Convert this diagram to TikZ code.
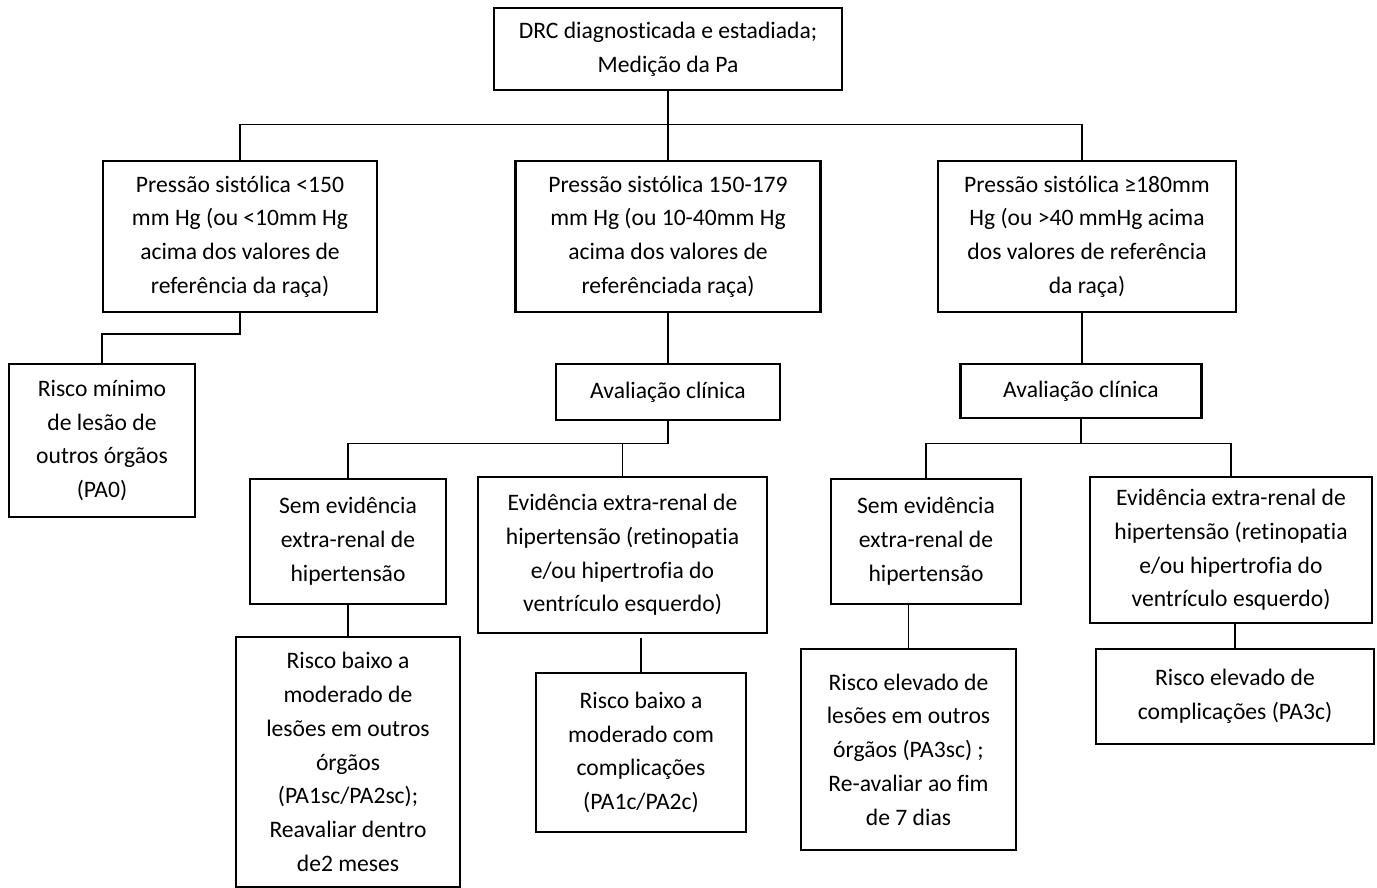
\documentclass[tikz,border=0pt]{standalone}
\usepackage{fontspec}
\setmainfont{Carlito}[Ligatures=NoCommon]
\begin{document}
\begin{tikzpicture}[x=1pt,y=1pt,
  box/.style={draw, line width=2.1pt, inner sep=0pt, align=center,
    font=\fontsize{23.6}{33.8}\selectfont},
  link/.style={draw, line width=1.6pt}]
\useasboundingbox[fill=white] (0,0) rectangle (1377,-888);

% level 0
\node[box, minimum width=348, minimum height=82] (top) at (668,-49)
  {DRC diagnosticada e estadiada;\\Medição da Pa};

% level 1: blood pressure ranges
\node[box, minimum width=274, minimum height=151] (p1) at (240,-236.5)
  {Pressão sistólica <150\\mm Hg (ou <10mm Hg\\acima dos valores de\\referência da raça)};
\node[box, minimum width=305, minimum height=151] (p2) at (668,-236.5)
  {Pressão sistólica 150-179\\mm Hg (ou 10-40mm Hg\\acima dos valores de\\referênciada raça)};
\node[box, minimum width=298, minimum height=151] (p3) at (1087,-236.5)
  {Pressão sistólica ≥180mm\\Hg (ou >40 mmHg acima\\dos valores de referência\\da raça)};

% level 2
\node[box, minimum width=186, minimum height=153] (r0) at (102,-440.5)
  {Risco mínimo\\de lesão de\\outros órgãos\\(PA0)};
\node[box, minimum width=224, minimum height=56] (av1) at (668,-392)
  {Avaliação clínica};
\node[box, minimum width=241, minimum height=54] (av2) at (1081,-391)
  {Avaliação clínica};

% level 3: clinical evidence
\node[box, minimum width=196, minimum height=125] (s1) at (348,-541.5)
  {Sem evidência\\extra-renal de\\hipertensão};
\node[box, minimum width=289, minimum height=156] (e1) at (622.5,-555)
  {Evidência extra-renal de\\hipertensão (retinopatia\\e/ou hipertrofia do\\ventrículo esquerdo)};
\node[box, minimum width=190, minimum height=125] (s2) at (926,-541.5)
  {Sem evidência\\extra-renal de\\hipertensão};
\node[box, minimum width=282, minimum height=146] (e2) at (1231,-550)
  {Evidência extra-renal de\\hipertensão (retinopatia\\e/ou hipertrofia do\\ventrículo esquerdo)};

% level 4: risk outcomes
\node[box, minimum width=224, minimum height=250] (r1) at (348,-762)
  {Risco baixo a\\moderado de\\lesões em outros\\órgãos\\(PA1sc/PA2sc);\\Reavaliar dentro\\de2 meses};
\node[box, minimum width=210, minimum height=159] (r2) at (641,-752.5)
  {Risco baixo a\\moderado com\\complicações\\(PA1c/PA2c)};
\node[box, minimum width=215, minimum height=201] (r3) at (908.5,-749.5)
  {Risco elevado de\\lesões em outros\\órgãos (PA3sc) ;\\Re-avaliar ao fim\\de 7 dias};
\node[box, minimum width=278, minimum height=95] (r4) at (1235,-696.5)
  {Risco elevado de\\complicações (PA3c)};

% bus lines
\coordinate (bus1) at (0,-124.5);
\coordinate (bus2) at (0,-443.5);
\coordinate (p3drop) at (1082,0);

% connectors
\draw[link] (top.south) -- (top.south |- bus1);
\draw[link] (p1.north) -- (p1.north |- bus1) -- (p3drop |- bus1) -- (p3drop |- p3.north);
\draw[link] (p2.north |- bus1) -- (p2.north);
\draw[link] (p1.south) -- ++(0,-21) -| (r0.north);
\draw[link] (p2.south) -- (av1.north);
\draw[link] (p3drop |- p3.south) -- (p3drop |- av2.north);
\draw[link] (av1.south) -- (av1.south |- bus2) -| (s1.north);
\draw[link] (e1.north) -- (e1.north |- bus2);
\draw[link] (av2.south) -- (av2.south |- bus2);
\draw[link] (s2.north) |- (bus2 -| e2.north) -- (e2.north);
\draw[link] (s1.south) -- (r1.north);
\draw[link] ([yshift=-4]r2.north |- e1.south) -- (r2.north);
\draw[link] (r3.north |- s2.south) -- (r3.north);
\draw[link] (r4.north |- e2.south) -- (r4.north);
\end{tikzpicture}
\end{document}
